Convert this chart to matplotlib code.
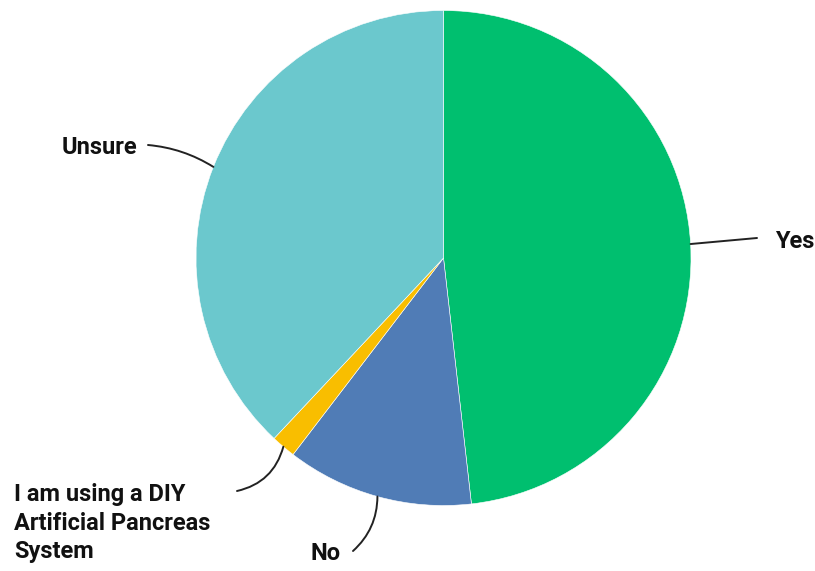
import numpy as np
import matplotlib.pyplot as plt

labels = ['Yes', 'No', 'I am using a DIY\nArtificial Pancreas\nSystem', 'Unsure']
values = [48.2, 12.2, 1.6, 38.0]
colors = ['#00BF6F', '#507CB6', '#F9BE00', '#6BC8CD']

plt.rcParams['font.family'] = ['Roboto', 'DejaVu Sans']

W, H = 815, 571
cx, cy, R = 443.5, 258, 247.5  # pie centre / radius in pixels

def px(x, y):
    return (x - cx) / R, (cy - y) / R

fig = plt.figure(figsize=(W / 100, H / 100), dpi=100)
ax = fig.add_axes([0, 0, 1, 1])
wedges, _ = ax.pie(values, colors=colors, startangle=90, counterclock=False,
                   radius=1, wedgeprops=dict(edgecolor='white', linewidth=0.4))
ax.set_xlim(-cx / R, (W - cx) / R)
ax.set_ylim(-(H - cy) / R, cy / R)
ax.set_aspect('equal')
ax.axis('off')

# label placement: (line end px, text px, ha, rad)
place = {
    'Yes': ((757, 238), (775, 241), 'left', 0.0),
    'No': ((353, 551), (341, 553), 'right', -0.22),
    'I am using a DIY\nArtificial Pancreas\nSystem': ((237, 491), (14, 523), 'left', -0.3),
    'Unsure': ((148, 145), (137, 147), 'right', 0.12),
}

for w, lab in zip(wedges, labels):
    ang = np.deg2rad((w.theta1 + w.theta2) / 2)
    start = (np.cos(ang), np.sin(ang))
    (ex, ey), (tx, ty), ha, rad = place[lab]
    ax.annotate('', xy=px(ex, ey), xytext=start,
                arrowprops=dict(arrowstyle='-', color='#222222', lw=1.4,
                                shrinkA=0, shrinkB=0,
                                connectionstyle=f'arc3,rad={rad}'))
    ax.text(*px(tx, ty), lab, ha=ha, va='center', fontsize=17,
            fontweight='bold', color='#111111', linespacing=1.3)

fig.savefig('out.png', dpi=100)
